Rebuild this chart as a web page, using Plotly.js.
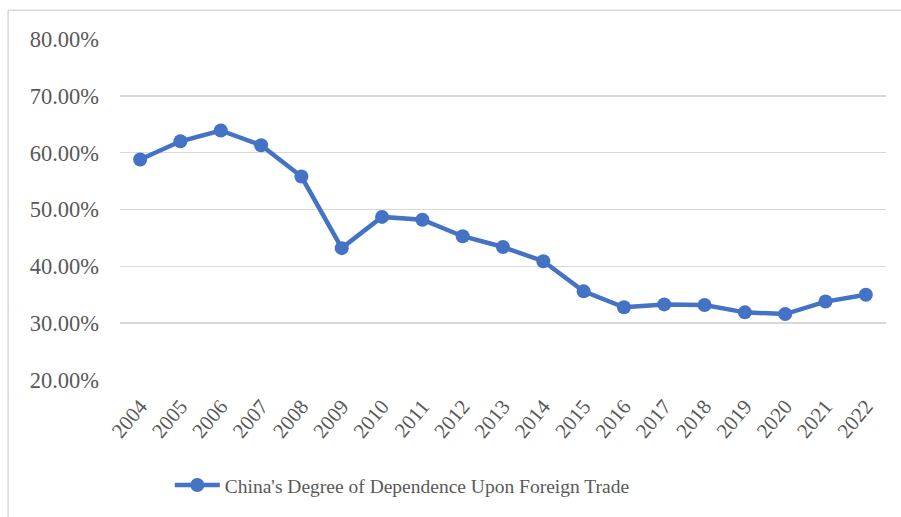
<!DOCTYPE html>
<html>
<head>
<meta charset="utf-8">
<script src="https://cdn.plot.ly/plotly-3.0.1.min.js"></script>
<style>html,body{margin:0;padding:0;background:#fff;}#chart{width:901px;height:517px;}</style>
</head>
<body>
<div id="chart"></div>
<script>
var years = ["2004","2005","2006","2007","2008","2009","2010","2011","2012","2013","2014","2015","2016","2017","2018","2019","2020","2021","2022"];
var dependence = [58.8, 62.0, 63.9, 61.3, 55.8, 43.2, 48.7, 48.2, 45.3, 43.4, 40.9, 35.6, 32.8, 33.3, 33.2, 31.9, 31.6, 33.8, 35.0];
var yTicks = [20, 30, 40, 50, 60, 70, 80];
var seriesName = "China's Degree of Dependence Upon Foreign Trade";

var font = "'Liberation Serif', 'Times New Roman', serif";
var trace = {
  x: years,
  y: dependence,
  type: 'scatter',
  mode: 'lines+markers',
  name: seriesName,
  line: {color: '#4472C4', width: 4.5},
  marker: {color: '#4472C4', size: 14},
  hoverinfo: 'x+y'
};
var layout = {
  width: 901, height: 517,
  paper_bgcolor: '#fff', plot_bgcolor: '#fff',
  margin: {l: 120, r: 15, t: 39, b: 135},
  font: {family: font, color: '#595959', size: 21},
  showlegend: true,
  legend: {
    orientation: 'h', x: 0.065, xanchor: 'left', y: -0.309, yanchor: 'middle',
    itemwidth: 45,
    font: {family: font, size: 19.5, color: '#595959'}
  },
  xaxis: {
    type: 'category',
    range: [-0.5, 18.5],
    tickangle: -50,
    showgrid: false, zeroline: false, showline: false,
    ticks: '',
    ticklabelstandoff: 9,
    tickfont: {family: font, size: 21, color: '#595959'}
  },
  yaxis: {
    range: [20, 80],
    tickvals: yTicks,
    ticktext: yTicks.map(function(v){return v.toFixed(2) + '%';}),
    showgrid: true, gridcolor: '#d9d9d9', gridwidth: 1.5,
    zeroline: false, showline: false, ticks: '',
    ticklabelstandoff: 20,
    tickfont: {family: font, size: 22.5, color: '#595959'}
  },
  shapes: [
    {type: 'line', xref: 'paper', yref: 'paper', x0: -0.146, x1: 1.03, y0: 1.084, y1: 1.084, line: {color: '#d9d9d9', width: 1.5}},
    {type: 'line', xref: 'paper', yref: 'paper', x0: -0.146, x1: -0.146, y0: 1.084, y1: -0.5, line: {color: '#d9d9d9', width: 1.5}}
  ]
};
Plotly.newPlot('chart', [trace], layout, {displayModeBar: false, staticPlot: true});
</script>
</body>
</html>
